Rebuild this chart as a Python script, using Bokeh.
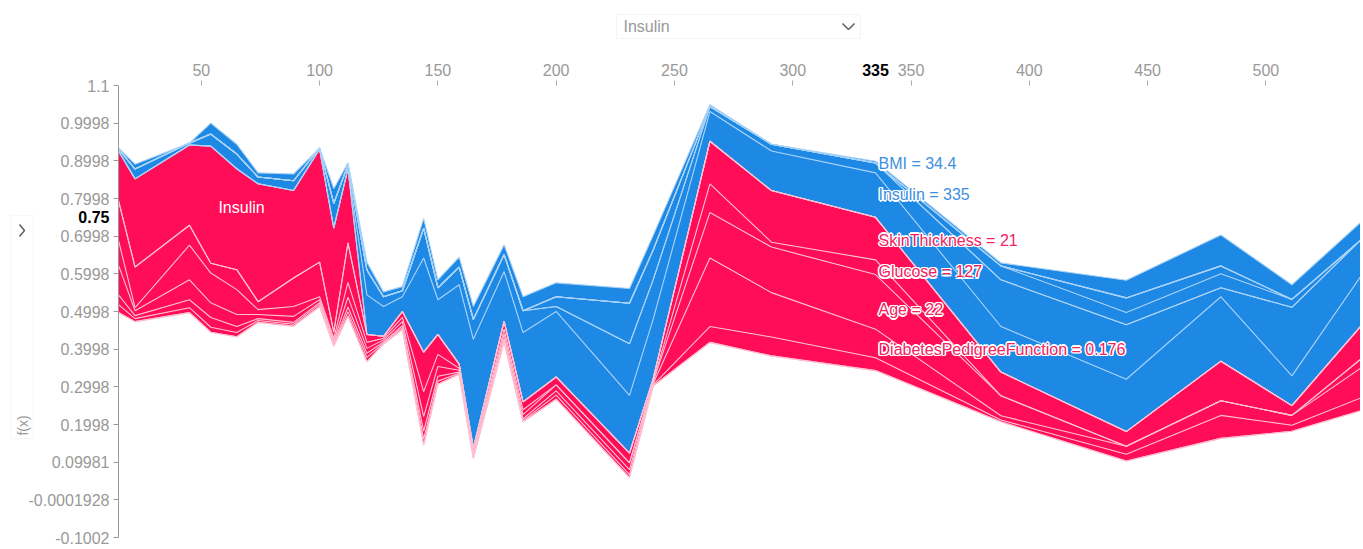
import numpy as np
from bokeh.plotting import figure
from bokeh.models import Range1d, FixedTicker, Label, BoxAnnotation
from bokeh.embed import file_html
from bokeh.resources import INLINE

# ---------------- data ----------------
feature_names = ["Insulin", "BMI", "SkinThickness", "Glucose", "Age",
                 "DiabetesPedigreeFunction", "Pregnancies", "BloodPressure"]

insulin_x = [15, 22, 45, 54, 65, 74, 89, 100, 106, 112, 120, 127, 135, 144, 150,
             159, 165, 178, 186, 200, 231, 241, 265, 291, 335, 388, 441, 481, 511, 540]

fx = [0.926, 0.852, 0.942, 0.939, 0.879, 0.839, 0.821, 0.931, 0.721, 0.879,
      0.439, 0.434, 0.500, 0.392, 0.439, 0.360, 0.137, 0.474, 0.260, 0.326,
      0.124, 0.321, 0.952, 0.821, 0.750, 0.339, 0.181, 0.368, 0.250, 0.460]

shap_insulin = [0.132, 0.234, 0.213, 0.311, 0.268, 0.313, 0.232, 0.300, 0.276, 0.197,
                -0.105, -0.079, -0.039, -0.250, -0.092, -0.211, -0.289, -0.132, -0.184, -0.174,
                -0.153, -0.158, -0.079, -0.105, -0.118, -0.121, -0.139, -0.171, -0.079, -0.132]
shap_bmi = [-0.005, -0.026, -0.005, -0.032, -0.039, -0.018, -0.026, -0.003, -0.066, -0.011,
            -0.066, -0.026, -0.016, -0.079, -0.032, -0.047, -0.053, -0.045, -0.058, -0.013,
            -0.137, -0.105, -0.013, -0.018, -0.026, -0.124, -0.145, -0.024, -0.182, -0.097]
shap_skin = [0.105, 0.108, 0.053, 0.026, 0.053, 0.021, 0.076, 0.092, 0.016, 0.105,
             0.021, 0.005, 0.016, 0.105, 0.053, 0.011, 0.011, 0.021, 0.021, 0.021,
             0.026, 0.008, 0.113, 0.137, 0.113, 0.063, 0.039, 0.105, 0.026, 0.087]
shap_glucose = [0.066, 0.008, 0.092, 0.079, 0.066, 0.013, 0.026, 0.008, 0.008, 0.039,
                0.016, 0.005, 0.011, 0.066, 0.032, 0.005, 0.005, 0.013, 0.013, -0.026,
                -0.108, -0.079, 0.076, 0.013, 0.039, -0.037, -0.032, -0.037, -0.021, 0.0]
shap_age = [0.079, 0.013, 0.053, 0.039, 0.032, 0.011, 0.016, 0.008, 0.005, 0.026,
            0.013, 0.005, 0.011, 0.039, 0.026, 0.005, 0.005, 0.011, 0.011, 0.016,
            0.018, 0.005, 0.121, 0.121, 0.145, 0.053, -0.039, -0.021, 0.0, 0.024]
shap_dpf = [0.026, 0.008, 0.021, 0.026, 0.016, 0.005, 0.005, 0.005, 0.005, 0.013,
            0.011, 0.003, 0.005, 0.021, 0.013, 0.003, 0.003, 0.005, 0.005, 0.011,
            0.013, 0.003, 0.182, 0.118, 0.076, 0.011, 0.021, 0.039, 0.026, 0.079]
shap_preg = [0.021, 0.008, 0.013, 0.013, 0.011, 0.005, 0.005, 0.005, 0.003, 0.011,
             0.011, 0.003, 0.005, 0.016, 0.008, 0.003, 0.003, 0.005, 0.003, 0.011,
             0.008, 0.003, 0.042, 0.050, 0.034, 0.005, 0.018, 0.061, 0.016, 0.034]
shap_bp = [-0.003, -0.013, 0.0, -0.029, -0.026, -0.011, -0.018, 0.0, -0.039, -0.005,
           -0.021, -0.013, -0.011, -0.026, -0.021, -0.026, -0.034, -0.026, -0.037, -0.037,
           -0.039, -0.039, -0.005, 0.0, -0.005, -0.008, -0.047, -0.082, -0.039, -0.047]

x_ticks = [50, 100, 150, 200, 250, 300, 350, 400, 450, 500]
y_ticks = [1.1, 0.9998, 0.8998, 0.7998, 0.6998, 0.5998, 0.4998, 0.3998,
           0.2998, 0.1998, 0.09981, -0.0001928, -0.1002]
y_tick_labels = ["1.1", "0.9998", "0.8998", "0.7998", "0.6998", "0.5998", "0.4998",
                 "0.3998", "0.2998", "0.1998", "0.09981", "-0.0001928", "-0.1002"]

selected_x = 335
selected_fx = 0.75
hover_labels = ["BMI = 34.4", "Insulin = 335", "SkinThickness = 21",
                "Glucose = 127", "Age = 22", "DiabetesPedigreeFunction = 0.176"]
hover_label_y = [0.892, 0.810, 0.689, 0.605, 0.505, 0.400]
hover_label_color = ["#3d8fe0", "#3d8fe0", "#f0245f", "#f0245f", "#f0245f", "#f0245f"]

RED = "#ff0d57"
BLUE = "#1e88e5"
RED_LINE = "#ffbfd1"
BLUE_LINE = "#a8d2f7"
FONT = "Liberation Sans"

# ---------------- layout geometry (pixels in the canvas) ----------------
W, H = 1360, 548
FRAME_L, FRAME_R = 118, 1360          # pixel of first / last sample
FRAME_T, FRAME_B = 85, 537            # pixel of y = 1.1 / y = -0.1002
x_lo, x_hi = min(insulin_x), max(insulin_x)
y_lo, y_hi = y_ticks[-1], y_ticks[0]
sx = (x_hi - x_lo) / (FRAME_R - FRAME_L)
sy = (y_hi - y_lo) / (FRAME_B - FRAME_T)
x_start = x_lo - FRAME_L * sx
x_end = x_hi + (W - FRAME_R) * sx
y_end = y_hi + FRAME_T * sy
y_start = y_lo - (H - FRAME_B) * sy


def px2x(px):
    return x_start + px * sx


def py2y(py):
    return y_end - py * sy


# ---------------- stacking ----------------
shap = np.array([shap_insulin, shap_bmi, shap_skin, shap_glucose,
                 shap_age, shap_dpf, shap_preg, shap_bp])
fxa = np.array(fx)
xs = np.array(insulin_x)
n = len(xs)
pos = np.clip(shap, 0, None)
neg = np.clip(-shap, 0, None)
red_cum = np.vstack([np.zeros(n), np.cumsum(pos, axis=0)])
blue_cum = np.vstack([np.zeros(n), np.cumsum(neg, axis=0)])

p = figure(width=W, height=H,
           x_range=Range1d(x_start, x_end),
           y_range=Range1d(y_start, y_end),
           x_axis_location="above",
           output_backend="svg", toolbar_location=None,
           min_border=0)
p.outline_line_color = None
p.xgrid.visible = False
p.ygrid.visible = False
p.background_fill_color = "white"

for k in range(len(feature_names)):
    p.varea(x=xs, y1=fxa - red_cum[k], y2=fxa - red_cum[k + 1],
            fill_color=RED, fill_alpha=1.0)
    p.varea(x=xs, y1=fxa + blue_cum[k], y2=fxa + blue_cum[k + 1],
            fill_color=BLUE, fill_alpha=1.0)
for k in range(len(feature_names) + 1):
    p.line(xs, fxa - red_cum[k], line_color=RED_LINE, line_width=1.1)
    p.line(xs, fxa + blue_cum[k], line_color=BLUE_LINE, line_width=1.1)

# axes (placed at fixed data locations so the frame fills the canvas)
xa = p.xaxis[0]
xa.fixed_location = y_hi
xa.bounds = (x_lo, x_hi)
xa.ticker = FixedTicker(ticks=x_ticks)
xa.axis_line_color = None
xa.major_tick_in = 0
xa.major_tick_out = 5
xa.minor_tick_line_color = None
xa.major_tick_line_color = "#aaaaaa"
xa.major_label_text_font = FONT
xa.major_label_text_font_size = "16px"
xa.major_label_text_color = "#999999"
xa.major_label_standoff = 5

ya = p.yaxis[0]
ya.fixed_location = x_lo
ya.bounds = (y_lo, y_hi)
ya.ticker = FixedTicker(ticks=y_ticks)
ya.major_label_overrides = dict(zip(y_ticks, y_tick_labels))
ya.axis_line_color = "#999999"
ya.major_tick_in = 0
ya.major_tick_out = 5
ya.minor_tick_line_color = None
ya.major_tick_line_color = "#999999"
ya.major_label_text_font = FONT
ya.major_label_text_font_size = "16px"
ya.major_label_text_color = "#999999"
ya.major_label_standoff = 4

# bold current values
p.add_layout(Label(x=x_lo, y=selected_fx, x_offset=-9, text="0.75",
                   text_font=FONT, text_font_size="16px", text_font_style="bold",
                   text_color="black", text_align="right", text_baseline="alphabetic",
                   background_fill_color="white"))
p.add_layout(Label(x=selected_x, y=py2y(69), text="335",
                   text_font=FONT, text_font_size="16px", text_font_style="bold",
                   text_color="black", text_align="center", text_baseline="middle",
                   background_fill_color="white"))

# feature name inside the area
p.add_layout(Label(x=67, y=0.776, text="Insulin", text_font=FONT,
                   text_font_size="16px", text_color="white",
                   text_align="center", text_baseline="middle"))

# hover labels with a white halo
halo = [(-1.5, 0), (1.5, 0), (0, -1.5), (0, 1.5),
        (-1.1, -1.1), (1.1, 1.1), (-1.1, 1.1), (1.1, -1.1)]
for t, yy, c in zip(hover_labels, hover_label_y, hover_label_color):
    for dx, dy in halo:
        p.add_layout(Label(x=selected_x, y=yy, x_offset=3 + dx, y_offset=dy, text=t,
                           text_font=FONT, text_font_size="16px", text_color="white",
                           text_align="left", text_baseline="middle"))
    p.add_layout(Label(x=selected_x, y=yy, x_offset=3, text=t, text_font=FONT,
                       text_font_size="16px", text_color=c, text_align="left",
                       text_baseline="middle"))

# dropdown
p.add_layout(BoxAnnotation(left=px2x(616), right=px2x(860), bottom=py2y(38), top=py2y(14),
                           fill_alpha=0.0, line_color="#d9d9d9", line_width=1))
p.add_layout(Label(x=px2x(623), y=py2y(26), text="Insulin",
                   text_font=FONT, text_font_size="16px", text_color="#999999",
                   text_baseline="middle"))
p.line(x=[px2x(842), px2x(848), px2x(854)], y=[py2y(23), py2y(29), py2y(23)],
       line_color="#666666", line_width=1.6)

# side panel
p.add_layout(BoxAnnotation(left=px2x(10), right=px2x(33), bottom=py2y(438), top=py2y(215),
                           fill_alpha=0.0, line_color="#e3e3e3", line_width=1))
p.line(x=[px2x(19), px2x(24), px2x(19)], y=[py2y(224), py2y(230), py2y(236)],
       line_color="#666666", line_width=1.6)
p.add_layout(Label(x=px2x(22), y=py2y(425), text="f(x)",
                   text_font=FONT, text_font_size="14px", text_color="#999999",
                   text_align="center", text_baseline="middle", angle=np.pi / 2))

open("out.html", "w").write(file_html(p, INLINE))
